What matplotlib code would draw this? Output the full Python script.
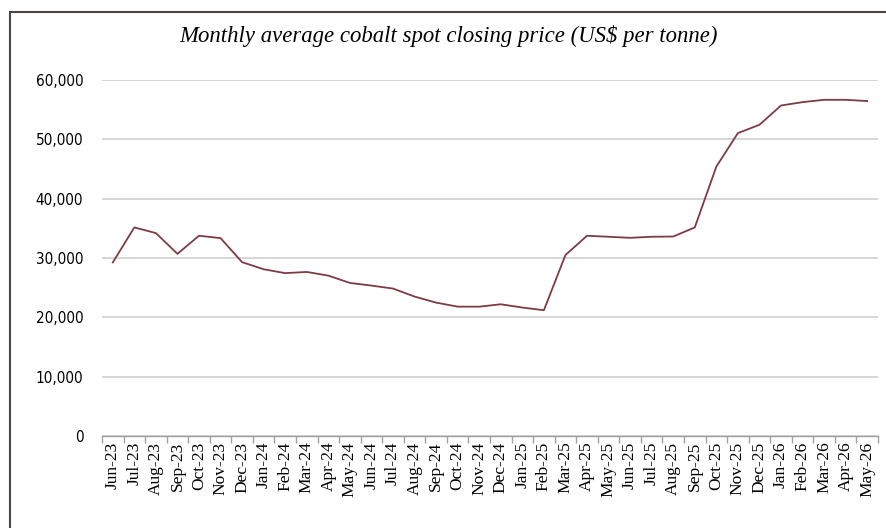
import matplotlib
matplotlib.use("Agg")
import matplotlib.pyplot as plt
import matplotlib.ticker as mticker
from matplotlib.patches import Rectangle

# Monthly average cobalt spot closing price, US$ per tonne
months = ["Jun-23", "Jul-23", "Aug-23", "Sep-23", "Oct-23", "Nov-23", "Dec-23",
          "Jan-24", "Feb-24", "Mar-24", "Apr-24", "May-24", "Jun-24", "Jul-24",
          "Aug-24", "Sep-24", "Oct-24", "Nov-24", "Dec-24",
          "Jan-25", "Feb-25", "Mar-25", "Apr-25", "May-25", "Jun-25", "Jul-25",
          "Aug-25", "Sep-25", "Oct-25", "Nov-25", "Dec-25",
          "Jan-26", "Feb-26", "Mar-26", "Apr-26", "May-26"]
prices = [29250, 35150, 34200, 30700, 33750, 33350, 29300,
          28100, 27450, 27650, 27030, 25800, 25350, 24850,
          23500, 22480, 21800, 21800, 22200,
          21650, 21200, 30500, 33750, 33580, 33400, 33580,
          33620, 35150, 45400, 51050, 52450,
          55700, 56270, 56660, 56660, 56450]
y_ticks = [0, 10000, 20000, 30000, 40000, 50000, 60000]

fig = plt.figure(figsize=(8.86, 5.28), dpi=100)
ax = fig.add_axes([102 / 886, 1 - 436 / 528, 776 / 886, 356 / 528])

x = range(len(months))
ax.plot(x, prices, color="#7d3c44", linewidth=1.3)

ax.set_xlim(-0.5, len(months) - 0.5)
ax.set_ylim(0, 60000)
ax.set_yticks(y_ticks)
ax.yaxis.set_major_formatter(mticker.FuncFormatter(lambda v, p: f"{int(v):,}"))
ax.grid(axis="y", color="#d0d0d0", linewidth=1.2)
ax.set_axisbelow(True)

# category labels at centres, tick marks between categories
ax.set_xticks(list(x))
ax.set_xticklabels(months, rotation=90, fontfamily="Liberation Serif", fontsize=12.5)
ax.tick_params(axis="x", length=0, pad=4)
ax.set_xticks([i - 0.5 for i in range(len(months) + 1)], minor=True)
ax.tick_params(axis="x", which="minor", length=5, color="#a0a0a0", width=1)
ax.tick_params(axis="y", length=0, pad=13.5)
for lab in ax.get_yticklabels():
    lab.set_fontfamily("DejaVu Sans")
    lab.set_fontstretch("condensed")
    lab.set_fontsize(11)

for s in ["top", "right", "left"]:
    ax.spines[s].set_visible(False)
ax.spines["bottom"].set_color("#a0a0a0")
ax.spines["bottom"].set_linewidth(1)

fig.text(449 / 886, 1 - 36 / 528, "Monthly average cobalt spot closing price (US$ per tonne)",
         ha="center", va="center", fontfamily="Liberation Serif", style="italic", fontsize=16.4)

# outer chart border
fig.patches.append(Rectangle((10 / 886, -0.05), 1.0, 1 - 12 / 528 + 0.05, transform=fig.transFigure,
                             fill=False, edgecolor="#4a4541", linewidth=1.5))

fig.savefig("out.png", dpi=100)
